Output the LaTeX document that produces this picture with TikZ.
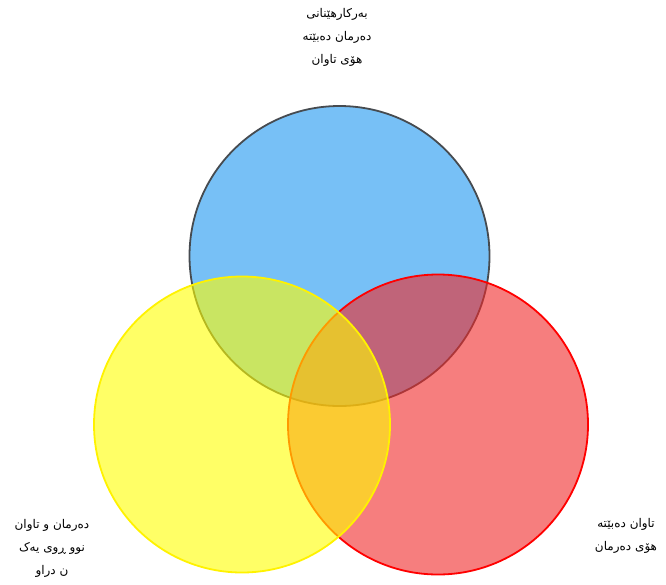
\documentclass[tikz,border=0pt]{standalone}
\usepackage{fontspec}
\newfontfamily\arabicfont[Script=Arabic]{DejaVu Sans}
\TeXXeTstate=1
\begin{document}
\begin{tikzpicture}[x=1pt,y=-1pt,
  circ/.style={line width=1.8pt, fill opacity=0.6},
  lbl/.style={font=\arabicfont\fontsize{12}{23}\selectfont, align=center, inner sep=0pt}]
\useasboundingbox (0,0) rectangle (666,584);
\definecolor{cblue}{RGB}{40,155,240}
\definecolor{cred}{RGB}{240,40,40}
\definecolor{cyel}{RGB}{255,255,0}
\definecolor{cgray}{RGB}{70,75,80}
\path[circ, fill opacity=0.63, draw=cgray, fill=cblue] (339.5,256) circle (150);
\path[circ, draw=red, fill=cred] (438,424.5) circle (150);
\path[circ, draw=yellow, fill=cyel] (242,424.5) circle (148);
\node[lbl] (t) at (337,37) {\beginR بەرکارهێنانی\endR\\ \beginR دەرمان دەبێتە\endR\\ \beginR هۆی  تاوان\endR};
\node[lbl] (l) at (52,548) {\beginR دەرمان و تاوان\endR\\ \beginR نوو ڕوی یەک\endR\\ \beginR ن دراو\endR};
\node[lbl] (r) at (626,536) {\beginR تاوان دەبێتە\endR\\ \beginR هۆی دەرمان\endR};
\end{tikzpicture}
\end{document}
